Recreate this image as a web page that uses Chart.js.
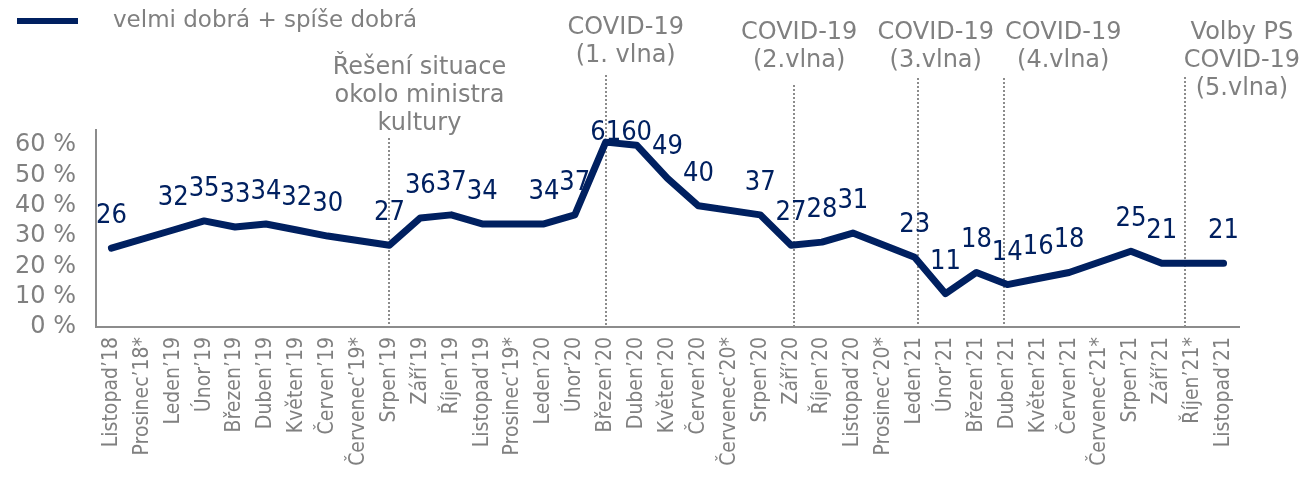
<!DOCTYPE html>
<html>
<head>
<meta charset="utf-8">
<script src="https://cdn.jsdelivr.net/npm/chart.js@4/dist/chart.umd.min.js"></script>
<style>
  html, body { margin: 0; padding: 0; background: #fff; }
  #wrap { width: 1316px; height: 504px; position: relative; }
</style>
</head>
<body>
<div id="wrap"><canvas id="graf"></canvas></div>
<script>
// --- data ---
const mesice = ['Listopad’18', 'Prosinec’18*', 'Leden’19', 'Únor’19', 'Březen’19', 'Duben’19', 'Květen’19',
    'Červen’19', 'Červenec’19*', 'Srpen’19', 'Září’19', 'Říjen’19', 'Listopad’19', 'Prosinec’19*',
    'Leden’20', 'Únor’20', 'Březen’20', 'Duben’20', 'Květen’20', 'Červen’20', 'Červenec’20*',
    'Srpen’20', 'Září’20', 'Říjen’20', 'Listopad’20', 'Prosinec’20*', 'Leden’21', 'Únor’21',
    'Březen’21', 'Duben’21', 'Květen’21', 'Červen’21', 'Červenec’21*', 'Srpen’21', 'Září’21',
    'Říjen’21*', 'Listopad’21'];

// měsíce s hvězdičkou nemají hodnotu, čára je jen přemostí
const dobra = [26, null, 32, 35, 33, 34, 32, 30, null, 27, 36, 37, 34, null, 34, 37, 61, 60, 49, 40, null,
    37, 27, 28, 31, null, 23, 11, 18, 14, 16, 18, null, 25, 21, null, 21];

const nazevRady = 'velmi dobrá + spíše dobrá';
const osaYTicks = [0, 10, 20, 30, 40, 50, 60];

// události (svislé čáry) - index kategorie a popisek
const udalostiIndex = [9, 16, 22.1, 26.1, 28.9, 34.75];
const udalostiText = [
    ['Řešení situace', 'okolo ministra', 'kultury'],
    ['COVID-19', '(1. vlna)'],
    ['COVID-19', '(2.vlna)'],
    ['COVID-19', '(3.vlna)'],
    ['COVID-19', '(4.vlna)'],
    ['Volby PS', 'COVID-19', '(5.vlna)']
];

const MODRA = '#002060';
const SEDA = '#808080';

// posuny popisků oproti čáře + začátek čáry (čistě vzhled)
const popisDx = [30, 20, 5, 18, 59, 57];
const popisY = [68, 28, 33, 33, 33, 33];
const caraTop = [138, 75, 85, 78, 78, 77];

const pluginKresba = {
    id: 'kresba',
    beforeDatasetsDraw(chart) {
        const ctx = chart.ctx;
        const x = chart.scales.x;
        const bottom = chart.chartArea.bottom;
        ctx.save();
        ctx.strokeStyle = '#8c8c8c';
        ctx.lineWidth = 2;
        ctx.setLineDash([2, 2]);
        udalostiIndex.forEach((idx, i) => {
            const px = Math.round(x.getPixelForValue(idx));
            ctx.beginPath();
            ctx.moveTo(px, caraTop[i]);
            ctx.lineTo(px, bottom);
            ctx.stroke();
        });
        ctx.restore();
    },
    afterDatasetsDraw(chart) {
        const ctx = chart.ctx;
        const meta = chart.getDatasetMeta(0);
        const top = chart.chartArea.top;
        ctx.save();

        // hodnoty nad body (Excel je drží uvnitř grafu)
        ctx.fillStyle = MODRA;
        ctx.font = '27px "DejaVu Sans Condensed", "DejaVu Sans"';
        ctx.textAlign = 'center';
        ctx.textBaseline = 'middle';
        meta.data.forEach((bod, i) => {
            if (dobra[i] === null) return;
            ctx.fillText(String(dobra[i]), bod.x, Math.max(bod.y - 32, top + 3));
        });

        // popisky událostí
        const x = chart.scales.x;
        ctx.fillStyle = SEDA;
        ctx.font = '24px "DejaVu Sans"';
        udalostiText.forEach((radky, i) => {
            const cx = x.getPixelForValue(udalostiIndex[i]) + popisDx[i];
            radky.forEach((t, j) => ctx.fillText(t, cx, popisY[i] + j * 28));
        });

        // legenda
        ctx.strokeStyle = MODRA;
        ctx.lineWidth = 6;
        ctx.beginPath();
        ctx.moveTo(17, 21);
        ctx.lineTo(78, 21);
        ctx.stroke();
        ctx.fillStyle = SEDA;
        ctx.font = '23px "DejaVu Sans"';
        ctx.textAlign = 'left';
        ctx.fillText(nazevRady, 113, 21);
        ctx.restore();
    }
};

new Chart(document.getElementById('graf'), {
    type: 'line',
    data: {
        labels: mesice,
        datasets: [{
            label: nazevRady,
            data: dobra,
            borderColor: MODRA,
            borderWidth: 7,
            borderCapStyle: 'round',
            borderJoinStyle: 'round',
            pointRadius: 0,
            pointHoverRadius: 0,
            spanGaps: true,
            tension: 0
        }]
    },
    options: {
        responsive: true,
        maintainAspectRatio: false,
        animation: false,
        layout: { padding: { top: 130, right: 77, left: 0, bottom: 0 } },
        plugins: {
            legend: { display: false },
            tooltip: { enabled: false }
        },
        scales: {
            x: {
                offset: true,
                grid: { display: false, drawTicks: false },
                border: { display: true, color: '#8c8c8c', width: 2 },
                ticks: {
                    autoSkip: false,
                    maxRotation: 90,
                    minRotation: 90,
                    padding: 10,
                    color: SEDA,
                    font: { family: '"DejaVu Sans Condensed", "DejaVu Sans"', size: 21 }
                },
                afterFit: s => { s.height = 504 - 327; }
            },
            y: {
                min: 0,
                max: 65,
                grid: { display: false, drawTicks: false },
                border: { display: true, color: '#8c8c8c', width: 2 },
                afterBuildTicks: s => { s.ticks = osaYTicks.map(v => ({ value: v })); },
                ticks: {
                    padding: 20,
                    color: SEDA,
                    font: { family: '"DejaVu Sans"', size: 24 },
                    callback: v => v + ' %'
                },
                afterFit: s => { s.width = 96; }
            }
        }
    },
    plugins: [pluginKresba]
});
</script>
</body>
</html>
